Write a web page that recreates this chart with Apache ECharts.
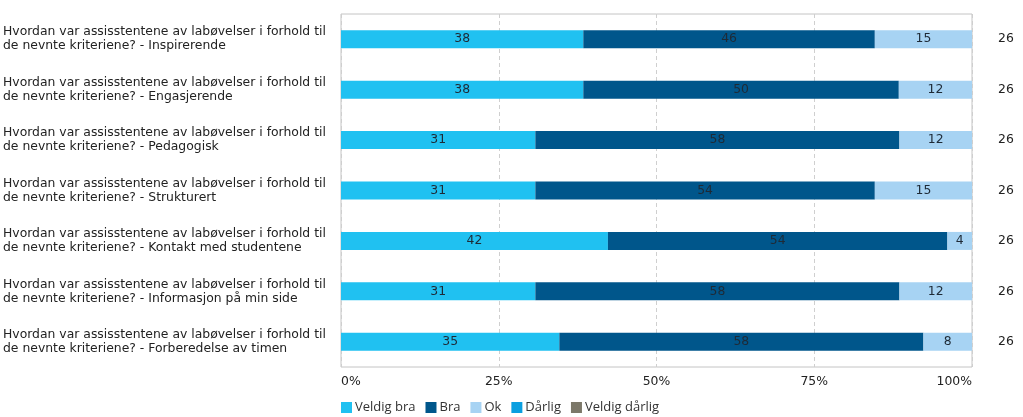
<!DOCTYPE html>
<html>
<head>
<meta charset="utf-8">
<script src="https://cdn.jsdelivr.net/npm/echarts@6/dist/echarts.min.js"></script>
<style>html,body{margin:0;padding:0;background:#fff}#c{width:1023px;height:417px}</style>
</head>
<body>
<div id="c"></div>
<script>
const categories = [
  "Hvordan var assisstentene av labøvelser i forhold til\nde nevnte kriteriene? - Inspirerende",
  "Hvordan var assisstentene av labøvelser i forhold til\nde nevnte kriteriene? - Engasjerende",
  "Hvordan var assisstentene av labøvelser i forhold til\nde nevnte kriteriene? - Pedagogisk",
  "Hvordan var assisstentene av labøvelser i forhold til\nde nevnte kriteriene? - Strukturert",
  "Hvordan var assisstentene av labøvelser i forhold til\nde nevnte kriteriene? - Kontakt med studentene",
  "Hvordan var assisstentene av labøvelser i forhold til\nde nevnte kriteriene? - Informasjon på min side",
  "Hvordan var assisstentene av labøvelser i forhold til\nde nevnte kriteriene? - Forberedelse av timen"
];
const responses = ["26", "26", "26", "26", "26", "26", "26"];
const veldigBra = [38.4, 38.4, 30.8, 30.8, 42.3, 30.8, 34.6];
const bra = [46.2, 50.0, 57.7, 53.8, 53.8, 57.7, 57.7];
const ok = [15.4, 11.6, 11.5, 15.4, 3.9, 11.5, 7.7];
const darlig = [0, 0, 0, 0, 0, 0, 0];
const veldigDarlig = [0, 0, 0, 0, 0, 0, 0];
const xTicks = ["0%", "25%", "50%", "75%", "100%"];

const seriesDefs = [
  { name: "Veldig bra", data: veldigBra, color: "#20C1F1" },
  { name: "Bra", data: bra, color: "#00568B" },
  { name: "Ok", data: ok, color: "#A7D3F3" },
  { name: "Dårlig", data: darlig, color: "#0A9FE0" },
  { name: "Veldig dårlig", data: veldigDarlig, color: "#7C7869" }
];

const chart = echarts.init(document.getElementById('c'), null, { renderer: 'canvas' });
chart.setOption({
  animation: false,
  backgroundColor: '#fff',
  grid: { left: 338, right: 51, top: 14, bottom: 50, show: true, borderColor: '#c4c4c4', borderWidth: 1, containLabel: false },
  legend: {
    left: 336, top: 396, icon: 'rect', itemWidth: 11, itemHeight: 11, itemGap: 10,
    textStyle: { fontFamily: 'Open Sans', fontSize: 13, color: '#333', padding: [0, 0, 0, -2] },
    data: seriesDefs.map(s => s.name)
  },
  xAxis: {
    type: 'value', min: 0, max: 100, interval: 25,
    axisLine: { show: false }, axisTick: { show: false },
    splitLine: { show: true, lineStyle: { type: [4, 3], color: '#cfcfcf' } },
    axisLabel: {
      margin: 9, fontFamily: 'DejaVu Sans', fontSize: 12.4, color: '#222',
      alignMinLabel: 'left', alignMaxLabel: 'right',
      formatter: (v) => xTicks[Math.round(v / 25)]
    }
  },
  yAxis: [
    {
      type: 'category', data: categories, inverse: true,
      axisLine: { show: false }, axisTick: { show: false },
      axisLabel: { align: 'left', margin: 338, fontFamily: 'DejaVu Sans', fontSize: 12.4, lineHeight: 14, color: '#222' }
    },
    {
      type: 'category', data: responses, inverse: true, position: 'right',
      axisLine: { show: false }, axisTick: { show: false },
      axisLabel: { align: 'left', margin: 26, fontFamily: 'DejaVu Sans', fontSize: 12.4, color: '#222' }
    }
  ],
  series: seriesDefs.map(s => ({
    name: s.name, type: 'bar', stack: 'total', yAxisIndex: 0, barWidth: 18,
    itemStyle: { color: s.color },
    data: s.data,
    label: {
      show: true, position: 'inside', fontFamily: 'DejaVu Sans', fontSize: 12.4, color: '#1e2a36',
      formatter: (p) => p.value > 0 ? String(Math.round(p.value)) : ''
    }
  }))
});
</script>
</body>
</html>
